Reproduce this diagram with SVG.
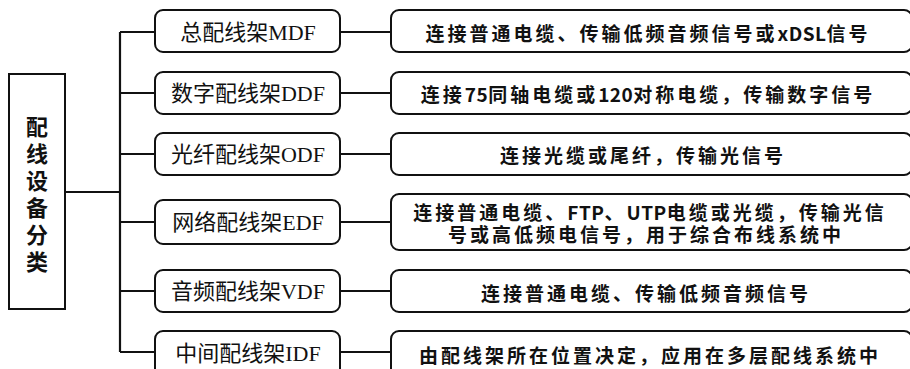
<svg xmlns="http://www.w3.org/2000/svg" width="910" height="369" viewBox="0 0 910 369">
<style>
.box{fill:#fff;stroke:#111;stroke-width:2}
.ln{fill:none;stroke:#111;stroke-width:2.2}
.mid{font-family:"Liberation Serif","Noto Sans CJK SC",serif;font-size:22px;fill:#111;text-anchor:middle;dominant-baseline:central}
.desc{font-family:"Noto Sans CJK SC",sans-serif;font-size:19px;font-weight:bold;fill:#111;text-anchor:middle;dominant-baseline:central;letter-spacing:3px}
.lat{letter-spacing:0.5px}
.root{font-family:"Noto Sans CJK SC",sans-serif;font-size:22px;font-weight:bold;fill:#111;text-anchor:middle;writing-mode:vertical-rl;letter-spacing:5px}
</style>
<rect width="910" height="369" fill="#fff"/>
<g id="connectors">
<path class="ln" d="M65 192 H120 M120 32 V352 M120 32 H155 M120 93 H155 M120 154 H155 M120 222 H155 M120 291 H155 M120 352 H155"/>
<path class="ln" d="M340 32 H391 M340 93 H391 M340 154 H391 M340 222 H391 M340 291 H391 M340 352 H391"/>
</g>
<g id="root">
<rect class="box" x="9" y="74" width="56" height="235"/>
<text class="root" x="37" y="197">配线设备分类</text>
</g>
<g id="mdf">
<rect class="box" x="155" y="10" width="185" height="42" rx="8"/>
<text class="mid" x="248" y="32">总配线架MDF</text>
</g>
<g id="ddf">
<rect class="box" x="155" y="72" width="185" height="42" rx="8"/>
<text class="mid" x="248" y="93">数字配线架DDF</text>
</g>
<g id="odf">
<rect class="box" x="155" y="133" width="185" height="42" rx="8"/>
<text class="mid" x="248" y="154">光纤配线架ODF</text>
</g>
<g id="edf">
<rect class="box" x="155" y="200" width="185" height="44" rx="8"/>
<text class="mid" x="248" y="222">网络配线架EDF</text>
</g>
<g id="vdf">
<rect class="box" x="155" y="270" width="185" height="42" rx="8"/>
<text class="mid" x="248" y="291">音频配线架VDF</text>
</g>
<g id="idf">
<rect class="box" x="155" y="331" width="185" height="50" rx="8"/>
<text class="mid" x="248" y="353">中间配线架IDF</text>
</g>
<g id="d1">
<rect class="box" x="391" y="10" width="521" height="42" rx="8"/>
<text class="desc" x="648" y="32">连接普通电缆、传输低频音频信号或<tspan class="lat">xDSL</tspan>信号</text>
</g>
<g id="d2">
<rect class="box" x="391" y="72" width="521" height="42" rx="8"/>
<text class="desc" x="648" y="93">连接<tspan class="lat">75</tspan>同轴电缆或<tspan class="lat">120</tspan>对称电缆，传输数字信号</text>
</g>
<g id="d3">
<rect class="box" x="391" y="133" width="521" height="42" rx="8"/>
<text class="desc" x="643" y="154">连接光缆或尾纤，传输光信号</text>
</g>
<g id="d4">
<rect class="box" x="391" y="194" width="521" height="56" rx="8"/>
<text class="desc"><tspan x="650" y="211">连接普通电缆、<tspan class="lat">FTP</tspan>、<tspan class="lat">UTP</tspan>电缆或光缆，传输光信</tspan><tspan x="646" y="233">号或高低频电信号，用于综合布线系统中</tspan></text>
</g>
<g id="d5">
<rect class="box" x="391" y="270" width="521" height="42" rx="8"/>
<text class="desc" x="646" y="292">连接普通电缆、传输低频音频信号</text>
</g>
<g id="d6">
<rect class="box" x="391" y="331" width="521" height="50" rx="8"/>
<text class="desc" x="650" y="354">由配线架所在位置决定，应用在多层配线系统中</text>
</g>
</svg>
